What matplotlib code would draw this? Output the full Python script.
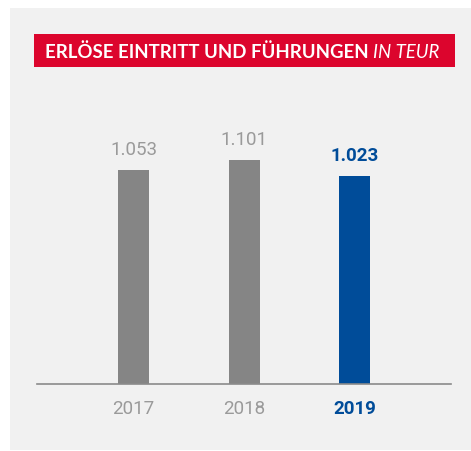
import matplotlib
matplotlib.use("Agg")
import matplotlib.pyplot as plt
from matplotlib.patches import Rectangle

years = ["2017", "2018", "2019"]
values = [1053, 1101, 1023]
labels = ["1.053", "1.101", "1.023"]
title_main = "ERLÖSE EINTRITT UND FÜHRUNGEN"
title_unit = "IN TEUR"

W, H = 471, 452
fig = plt.figure(figsize=(W / 100, H / 100), dpi=100)
fig.patch.set_facecolor("white")

def fx(px):
    return px / W

def fy(py):
    return 1 - py / H

# panel
fig.patches.append(Rectangle((fx(10), fy(451)), fx(461), 442 / H, transform=fig.transFigure,
                             facecolor="#f1f1f1", edgecolor="none", zorder=-5))
# red title bar
fig.patches.append(Rectangle((fx(34), fy(68)), fx(421), 33 / H, transform=fig.transFigure,
                             facecolor="#dc052d", edgecolor="none", zorder=1))
fs_title = 13.4
t1 = fig.text(fx(45), fy(52), title_main + " ", color="white", fontsize=fs_title,
              fontfamily="Lato", fontweight="bold", va="center", ha="left", zorder=2)
fig.canvas.draw()
bb = t1.get_window_extent()
fig.text(bb.x1 / W, fy(52), title_unit, color="white", fontsize=fs_title,
         fontfamily="Lato", fontstyle="italic", va="center", ha="left", zorder=2)

# axes
ax_left, ax_right = 37, 451
ax_top, ax_bot = 100, 385
ax = fig.add_axes([fx(ax_left), fy(ax_bot), (ax_right - ax_left) / W, (ax_bot - ax_top) / H])
ax.set_zorder(3)
ax.patch.set_visible(False)
px_per_unit = 110.5
ax.set_xlim(-96.5 / px_per_unit, 2 + 96.5 / px_per_unit)
ax.set_ylim(0, (ax_bot - ax_top) * 4.92)

colors = ["#858585", "#858585", "#004c99"]
x = list(range(len(years)))
ax.bar(x, values, width=31 / px_per_unit, color=colors, zorder=2)

for i, (v, lab) in enumerate(zip(values, labels)):
    last = i == len(values) - 1
    ax.annotate(lab, (i, v), xytext=(0, 12), textcoords="offset pixels",
                ha="center", va="bottom", fontsize=13.5, fontfamily="Roboto",
                fontweight="bold" if last else "normal",
                color="#004c99" if last else "#9a9a9a")

ax.set_xticks(x)
ax.set_xticklabels(years)
for i, tl in enumerate(ax.get_xticklabels()):
    last = i == len(years) - 1
    tl.set_fontfamily("Roboto")
    tl.set_fontsize(13.5)
    tl.set_fontweight("bold" if last else "normal")
    tl.set_color("#004c99" if last else "#9a9a9a")
ax.tick_params(axis="x", length=0, pad=11)
ax.set_yticks([])
for s in ["top", "right", "left"]:
    ax.spines[s].set_visible(False)
ax.spines["bottom"].set_color("#8a8a8a")
ax.spines["bottom"].set_linewidth(1.2)
ax.spines["bottom"].set_zorder(3)

fig.savefig("out.png", dpi=100)
